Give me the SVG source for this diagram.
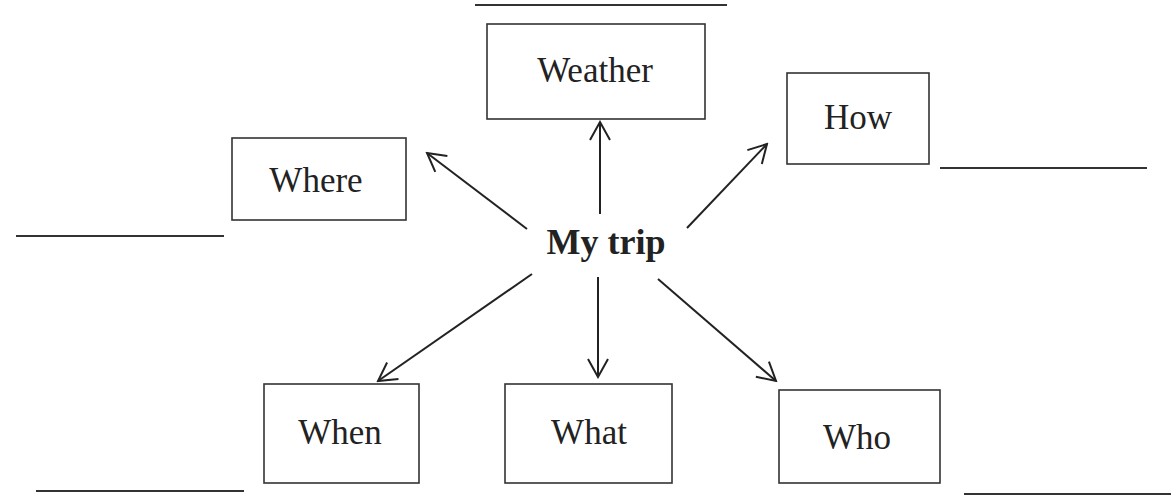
<svg xmlns="http://www.w3.org/2000/svg" width="1176" height="499" viewBox="0 0 1176 499">
<style>
.box{fill:#fff;stroke:#333;stroke-width:1.6}
.lbl{font-family:"Liberation Serif","Times New Roman",serif;font-size:35px;fill:#222;text-anchor:middle}
.title{font-size:36px;font-weight:bold}
.blank{stroke:#333;stroke-width:2;fill:none}
.conn{stroke:#222;stroke-width:2;fill:none;marker-end:url(#arr)}
</style>
<defs>
<marker id="arr" markerUnits="userSpaceOnUse" viewBox="-20 -12 22 24" refX="0" refY="0" markerWidth="22" markerHeight="24" orient="auto">
<path d="M-18,-10 L0,0 L-18,10" fill="none" stroke="#222" stroke-width="2"/>
</marker>
</defs>
<g id="blanks">
<line class="blank" x1="475" y1="5" x2="727" y2="5"/>
<line class="blank" x1="940" y1="168" x2="1147" y2="168"/>
<line class="blank" x1="16" y1="236" x2="224" y2="236"/>
<line class="blank" x1="36" y1="491" x2="244" y2="491"/>
<line class="blank" x1="964" y1="494" x2="1171" y2="494"/>
</g>
<g id="center">
<text class="lbl title" x="606" y="254">My trip</text>
</g>
<g id="weather">
<rect class="box" x="487" y="24" width="218" height="95"/>
<text class="lbl" x="595" y="82">Weather</text>
</g>
<g id="how">
<rect class="box" x="787" y="73" width="142" height="91"/>
<text class="lbl" x="858" y="129">How</text>
</g>
<g id="where">
<rect class="box" x="232" y="138" width="174" height="82"/>
<text class="lbl" x="316" y="192">Where</text>
</g>
<g id="when">
<rect class="box" x="264" y="384" width="155" height="99"/>
<text class="lbl" x="340" y="444">When</text>
</g>
<g id="what">
<rect class="box" x="505" y="384" width="167" height="99"/>
<text class="lbl" x="589" y="444">What</text>
</g>
<g id="who">
<rect class="box" x="779" y="390" width="161" height="93"/>
<text class="lbl" x="857" y="449">Who</text>
</g>
<g id="connectors">
<line class="conn" x1="600" y1="214" x2="600" y2="122"/>
<line class="conn" x1="527" y1="229" x2="427" y2="153"/>
<line class="conn" x1="687" y1="228" x2="767" y2="144"/>
<line class="conn" x1="532" y1="274" x2="378" y2="381"/>
<line class="conn" x1="598" y1="277" x2="598" y2="377"/>
<line class="conn" x1="658" y1="279" x2="776" y2="381"/>
</g>
</svg>
